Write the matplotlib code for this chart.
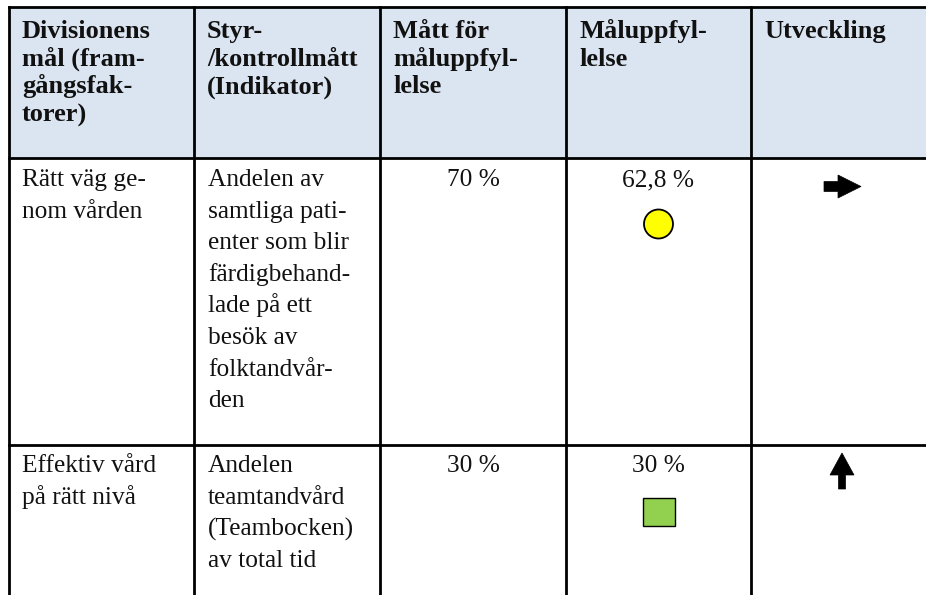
import matplotlib
matplotlib.use("Agg")
import matplotlib.pyplot as plt
from matplotlib.patches import Rectangle, Circle, Polygon

# ---- data ----
headers = [
    ["Divisionens", "mål (fram-", "gångsfak-", "torer)"],
    ["Styr-", "/kontrollmått", "(Indikator)"],
    ["Mått för", "måluppfyl-", "lelse"],
    ["Måluppfyl-", "lelse"],
    ["Utveckling"],
]
goals = [["Rätt väg ge-", "nom vården"], ["Effektiv vård", "på rätt nivå"]]
indicators = [
    ["Andelen av", "samtliga pati-", "enter som blir", "färdigbehand-",
     "lade på ett", "besök av", "folktandvår-", "den"],
    ["Andelen", "teamtandvård", "(Teambocken)", "av total tid"],
]
targets = ["70 %", "30 %"]
results = ["62,8 %", "30 %"]
status = ["circle", "square"]
status_colors = ["#ffff00", "#92d050"]
trends = ["right", "up"]

# ---- layout (pixel coordinates) ----
W, H = 926, 595
col_x = [9, 194, 380, 566, 751, 937]
top = 7
header_bottom = 158
row_bottoms = [445, 640]
header_bg = "#dbe5f1"
fs = 18.3
fs_h = 19.0
font = "Liberation Serif"
txt_color = "#111111"

fig = plt.figure(figsize=(W / 100, H / 100), dpi=100)
ax = fig.add_axes([0, 0, 1, 1])
ax.set_xlim(0, W)
ax.set_ylim(H, 0)
ax.axis("off")

# header background
ax.add_patch(Rectangle((col_x[0], top), col_x[-1] - col_x[0], header_bottom - top,
                       facecolor=header_bg, edgecolor="none", zorder=0))

lw = 2.0
for y in [top, header_bottom, row_bottoms[0]]:
    ax.plot([col_x[0], col_x[-1]], [y, y], color="black", lw=lw, solid_capstyle="projecting")
for x in col_x:
    ax.plot([x, x], [top, H + 10], color="black", lw=lw)

pad = 13
for c, lines in enumerate(headers):
    for i, t in enumerate(lines):
        ax.text(col_x[c] + pad, 38 + 27.7 * i, t, fontfamily=font, fontsize=fs_h,
                fontweight="bold", va="baseline", ha="left", color=txt_color)

row_tops = [header_bottom, row_bottoms[0]]
row_base = [186, 472.5]
spacing = 31.6
for r in range(2):
    b0 = row_base[r]
    for i, t in enumerate(goals[r]):
        ax.text(col_x[0] + pad + 0.5, b0 + spacing * i, t, fontfamily=font, fontsize=fs,
                va="baseline", ha="left", color=txt_color)
    for i, t in enumerate(indicators[r]):
        ax.text(col_x[1] + pad + 1, b0 + spacing * i, t, fontfamily=font, fontsize=fs,
                va="baseline", ha="left", color=txt_color)
    cx3 = (col_x[2] + col_x[3]) / 2
    cx4 = (col_x[3] + col_x[4]) / 2
    cx5 = (col_x[4] + col_x[5]) / 2 - 2
    ax.text(cx3, b0, targets[r], fontfamily=font, fontsize=fs, va="baseline",
            ha="center", color=txt_color)
    ax.text(cx4, b0, results[r], fontfamily=font, fontsize=fs, va="baseline",
            ha="center", color=txt_color)
    sy = row_tops[r] + 67
    if status[r] == "circle":
        ax.add_patch(Circle((cx4, sy - 1), 14.5, facecolor=status_colors[r],
                            edgecolor="black", lw=1.3, zorder=3))
    else:
        ax.add_patch(Rectangle((cx4 - 16, sy - 14), 32, 28, facecolor=status_colors[r],
                               edgecolor="black", lw=1.0, zorder=3))
    if trends[r] == "right":
        ay = row_tops[r] + 28.5
        pts = [(cx5 - 18, ay - 5), (cx5 - 4, ay - 5), (cx5 - 4, ay - 11.5),
               (cx5 + 19, ay), (cx5 - 4, ay + 11.5), (cx5 - 4, ay + 5), (cx5 - 18, ay + 5)]
    else:
        ay = row_tops[r] + 26
        pts = [(cx5 - 3.5, ay + 18), (cx5 - 3.5, ay + 4), (cx5 - 12, ay + 4),
               (cx5, ay - 18), (cx5 + 12, ay + 4), (cx5 + 3.5, ay + 4), (cx5 + 3.5, ay + 18)]
    ax.add_patch(Polygon(pts, closed=True, facecolor="black", edgecolor="black",
                         lw=0.5, zorder=3))

fig.savefig("out.png", dpi=100)
